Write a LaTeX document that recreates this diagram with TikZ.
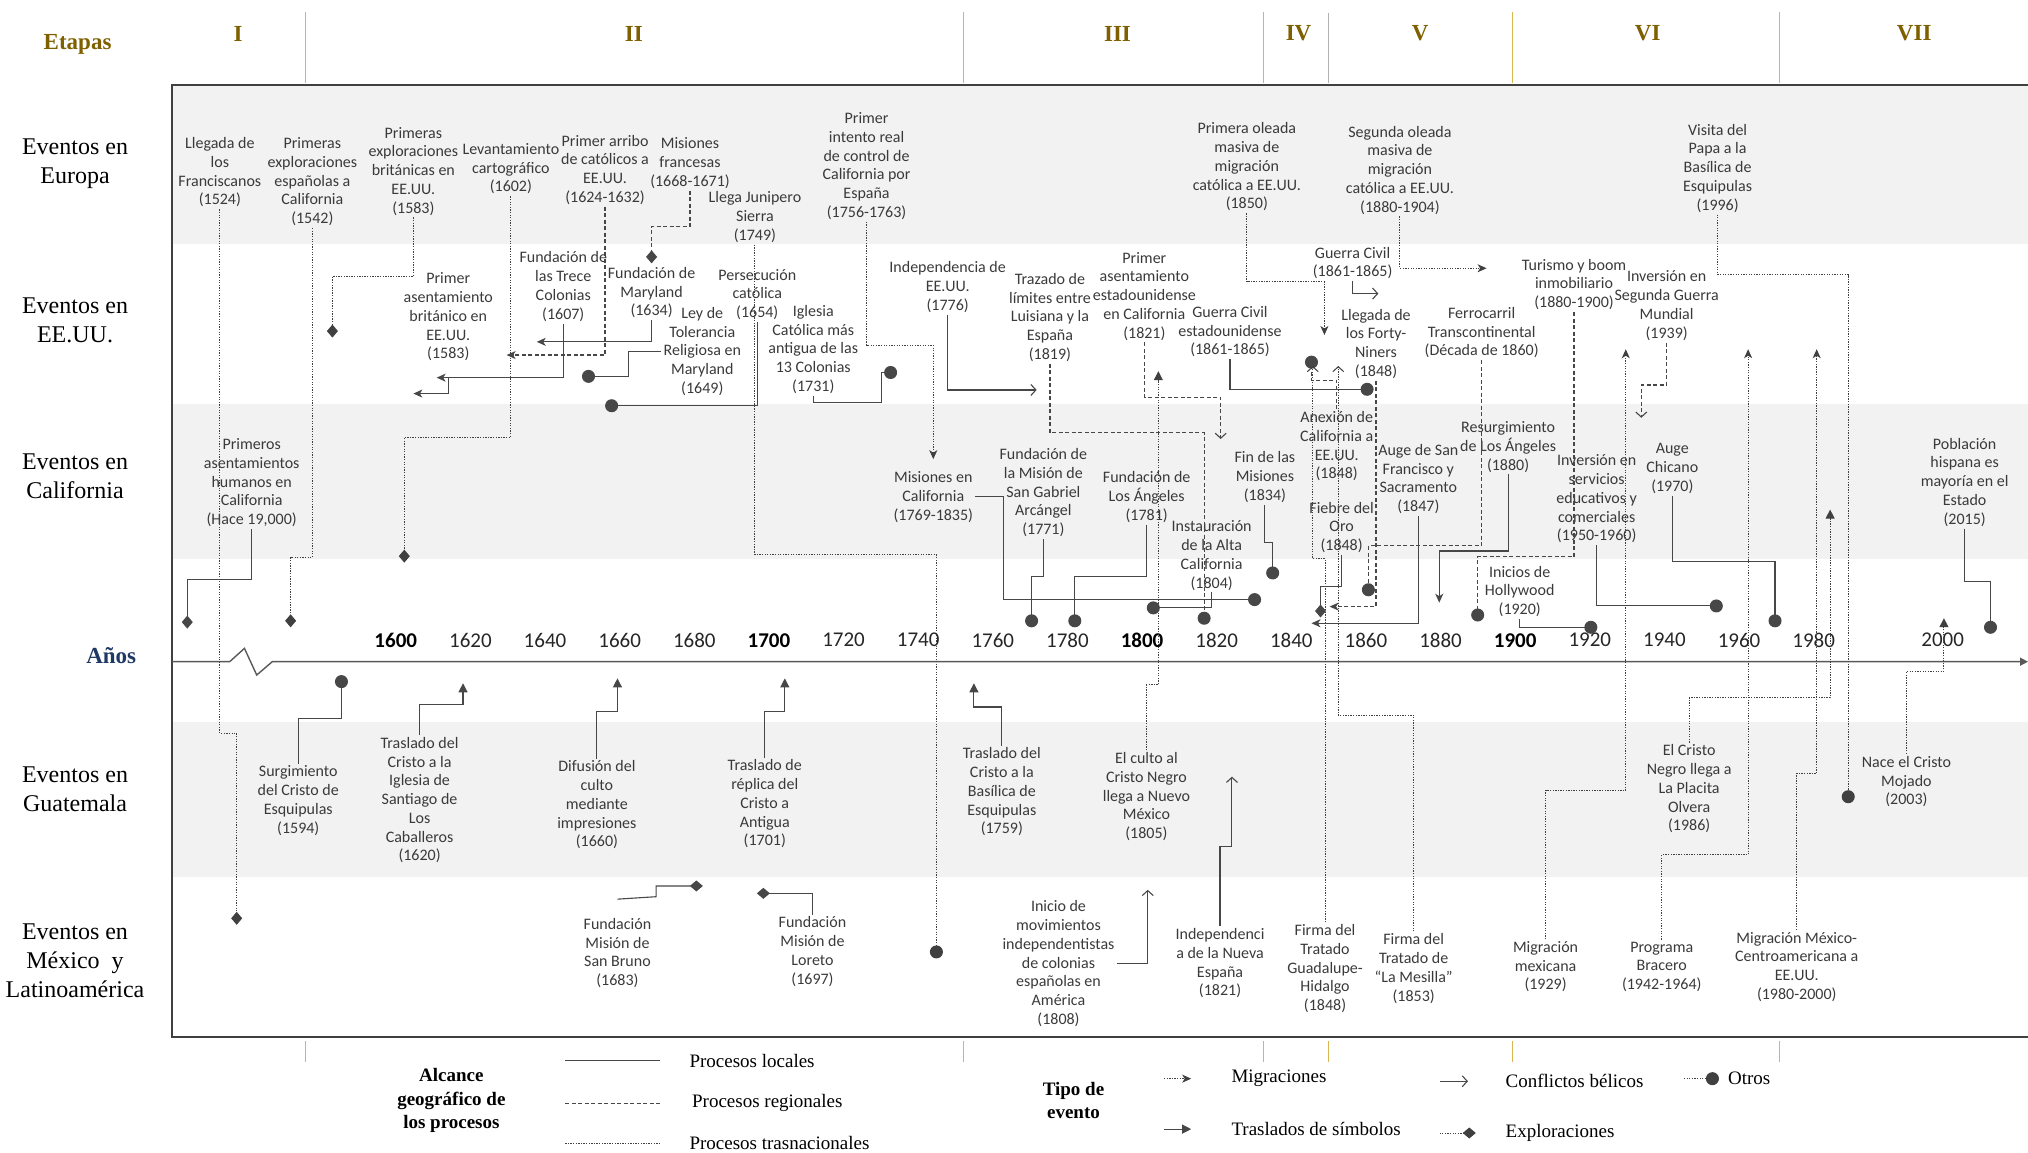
\documentclass[tikz,border=0pt]{standalone}
\usepackage{fontspec}
\setmainfont{Liberation Serif}
\newfontfamily\carl{Carlito}
\usetikzlibrary{arrows.meta}
\definecolor{bandgray}{HTML}{F2F2F2}
\definecolor{txtgray}{HTML}{3A3A3A}
\definecolor{linegray}{HTML}{474747}
\definecolor{gold}{HTML}{7F6000}
\definecolor{goldline}{HTML}{D9B650}
\definecolor{navy}{HTML}{1F3864}
\begin{document}
\begin{tikzpicture}[x=1.2934pt,y=-1.2934pt,
  ev/.style={align=center,font=\carl\fontsize{16}{18.75}\selectfont,text=txtgray,inner sep=2pt},
  rowlbl/.style={align=center,font=\fontsize{24}{29}\selectfont,text=black},
  stagelbl/.style={font=\bfseries\fontsize{23}{27}\selectfont,text=gold},
  yearlbl/.style={font=\carl\fontsize{21}{25}\selectfont,text=black!85},
  yearbold/.style={font=\carl\bfseries\fontsize{21}{25}\selectfont,text=black},
  legtxt/.style={anchor=west,font=\fontsize{19}{23}\selectfont,inner sep=0pt},
  legtitle/.style={align=center,font=\bfseries\fontsize{19}{23.3}\selectfont},
  loc/.style={draw=linegray,line width=1.1pt},
  reg/.style={draw=linegray,line width=1.1pt,dash pattern=on 4pt off 2.5pt},
  trans/.style={draw=black!75,line width=1pt,dash pattern=on 1.3pt off 1.3pt},
  migr/.style={-{Stealth[length=9pt,width=8pt,inset=2.5pt]}},
  trasl/.style={-{Triangle[length=9pt,width=9pt]}},
  confl/.style={-{Straight Barb[length=5pt,width=11pt]}},
  odot/.style={-{Circle[length=13pt]},shorten >=-6.5pt},
  expl/.style={-{Kite[length=13pt,width=11pt,inset=6.5pt]},shorten >=-6.5pt}]
\useasboundingbox (0,0) rectangle (1568,891);

% background bands of the event rows
\fill[bandgray] (133,66) rectangle (1568,189);
\fill[bandgray] (133,312) rectangle (1568,432);
\fill[bandgray] (133,558) rectangle (1568,678);

% frame
\draw[line width=2pt,draw=black!75] (1568,66) -- (133,66) -- (133,802) -- (1568,802);

% stage separators
\foreach \sx in {236,745,977,1169,1376} {
  \draw[goldline,line width=0.8pt] (\sx,9) -- (\sx,64);
  \draw[goldline,line width=0.8pt] (\sx,805) -- (\sx,821);
}
\draw[black!30,line width=0.8pt] (1027,10) -- (1027,64);
\draw[goldline,line width=0.8pt] (1027,805) -- (1027,821);

% header
\node[stagelbl] (etapas) at (60,34) {Etapas};
\node[stagelbl] (st1) at (184,26) {I};
\node[stagelbl] (st2) at (490,26) {II};
\node[stagelbl] (st3) at (864,26) {III};
\node[stagelbl] (st4) at (1004,26) {IV};
\node[stagelbl] (st5) at (1098,26) {V};
\node[stagelbl] (st6) at (1274,26) {VI};
\node[stagelbl] (st7) at (1480,26) {VII};

% row labels
\node[rowlbl] (rEur) at (58,126.5) {Eventos en\\Europa};
\node[rowlbl] (rUSA) at (58,247.5) {Eventos en\\EE.UU.};
\node[rowlbl] (rCal) at (58,368.5) {Eventos en\\California};
\node[font=\bfseries\fontsize{23}{27}\selectfont,text=navy] (rAnios) at (86,507) {Años};
\node[rowlbl] (rGua) at (58,610) {Eventos en\\Guatemala};
\node[rowlbl] (rMex) at (58,743) {Eventos en\\México~~y\\Latinoamérica};

% time axis with a break
\draw[draw=black!65,line width=1.4pt,-{Triangle[length=8pt,width=8pt]}]
  (133,511.6) -- (177.6,511.6) -- (189,501.3) -- (198.5,521.9) -- (210.5,511.6) -- (1568,511.6);
\foreach \yr/\xx in {1620/363.7,1640/421.4,1660/479.1,1680/536.8,1720/652.2,1740/709.9,1760/767.6,1780/825.3,1820/940.7,1840/998.4,1860/1056.1,1880/1113.8,1920/1229.2,1940/1286.9,1960/1344.6,1980/1402.3,2000/1502}
  \node[yearlbl] (yr\yr) at (\xx,495) {\yr};
\foreach \yr/\xx in {1600/306,1700/594.5,1800/883,1900/1171.5}
  \node[yearbold] (yr\yr) at (\xx,495) {\yr};

% ---- events in Europe
\node[ev] (e1) at (170,133.3) {Llegada de\\los\\Franciscanos\\(1524)};
\node[ev] (e2) at (241.5,140.6) {Primeras\\exploraciones\\españolas a\\California\\(1542)};
\node[ev] (e3) at (319.6,132.3) {Primeras\\exploraciones\\británicas en\\EE.UU.\\(1583)};
\node[ev] (e4) at (395,130.5) {Levantamiento\\cartográfico\\(1602)};
\node[ev] (e5) at (467.8,131.2) {Primer arribo\\de católicos a\\EE.UU.\\(1624-1632)};
\node[ev] (e6) at (533.5,126) {Misiones\\francesas\\(1668-1671)};
\node[ev] (e7) at (583.7,167.8) {Llega Junipero\\Sierra\\(1749)};
\node[ev] (e8) at (670,128.5) {Primer\\intento real\\de control de\\California por\\España\\(1756-1763)};
\node[ev] (e9) at (964,129) {Primera oleada\\masiva de\\migración\\católica a EE.UU.\\(1850)};
\node[ev] (e10) at (1082.4,131.5) {Segunda oleada\\masiva de\\migración\\católica a EE.UU.\\(1880-1904)};
\node[ev] (e11) at (1328,130) {Visita del\\Papa a la\\Basílica de\\Esquipulas\\(1996)};

% ---- events in the USA
\node[ev] (u1) at (346.6,245) {Primer\\asentamiento\\británico en\\EE.UU.\\(1583)};
\node[ev] (u2) at (435.5,221.6) {Fundación de\\las Trece\\Colonias\\(1607)};
\node[ev] (u3) at (503.8,226.3) {Fundación de\\Maryland\\(1634)};
\node[ev] (u4) at (543,271.8) {Ley de\\Tolerancia\\Religiosa en\\Maryland\\(1649)};
\node[ev] (u5) at (585.5,227.7) {Persecución\\católica\\(1654)};
\node[ev] (u6) at (628.8,270.2) {Iglesia\\Católica más\\antigua de las\\13 Colonias\\(1731)};
\node[ev] (u7) at (732.7,222) {Independencia de\\EE.UU.\\(1776)};
\node[ev] (u8) at (811.8,245.5) {Trazado de\\límites entre\\Luisiana y la\\España\\(1819)};
\node[ev] (u9) at (884.8,229) {Primer\\asentamiento\\estadounidense\\en California\\(1821)};
\node[ev] (u10) at (951,256.5) {Guerra Civil\\estadounidense\\(1861-1865)};
\node[ev] (u11) at (1045.8,203.3) {Guerra Civil\\(1861-1865)};
\node[ev] (u12) at (1063.9,265.8) {Llegada de\\los Forty-\\Niners\\(1848)};
\node[ev] (u13) at (1145.6,257.3) {Ferrocarril\\Transcontinental\\(Década de 1860)};
\node[ev] (u14) at (1217,220) {Turismo y boom\\inmobiliario\\(1880-1900)};
\node[ev] (u15) at (1288.6,236.3) {Inversión en\\Segunda Guerra\\Mundial\\(1939)};

% ---- events in California
\node[ev] (c1) at (194.6,373.2) {Primeros\\asentamientos\\humanos en\\California\\(Hace 19,000)};
\node[ev] (c2) at (721.6,384.2) {Misiones en\\California\\(1769-1835)};
\node[ev] (c3) at (806.7,381) {Fundación de\\la Misión de\\San Gabriel\\Arcángel\\(1771)};
\node[ev] (c4) at (886.6,384.2) {Fundación de\\Los Ángeles\\(1781)};
\node[ev] (c5) at (936.8,429.5) {Instauración\\de la Alta\\California\\(1804)};
\node[ev] (c6) at (978,369) {Fin de las\\Misiones\\(1834)};
\node[ev] (c7) at (1033.5,345) {Anexión de\\California a\\EE.UU.\\(1848)};
\node[ev] (c8) at (1037.3,407.8) {Fiebre del\\Oro\\(1848)};
\node[ev] (c9) at (1096.6,370.4) {Auge de San\\Francisco y\\Sacramento\\(1847)};
\node[ev] (c10) at (1166,345.5) {Resurgimiento\\de Los Ángeles\\(1880)};
\node[ev] (c11) at (1175,457.3) {Inicios de\\Hollywood\\(1920)};
\node[ev] (c12) at (1234.5,385.7) {Inversión en\\servicios\\educativos y\\comerciales\\(1950-1960)};
\node[ev] (c13) at (1293,362.3) {Auge\\Chicano\\(1970)};
\node[ev] (c14) at (1519,372.8) {Población\\hispana es\\mayoría en el\\Estado\\(2015)};

% ---- events in Guatemala
\node[ev] (g1) at (230.6,619) {Surgimiento\\del Cristo de\\Esquipulas\\(1594)};
\node[ev] (g2) at (324.4,618.7) {Traslado del\\Cristo a la\\Iglesia de\\Santiago de\\Los\\Caballeros\\(1620)};
\node[ev] (g3) at (461.5,622.4) {Difusión del\\culto\\mediante\\impresiones\\(1660)};
\node[ev] (g4) at (591.3,621.6) {Traslado de\\réplica del\\Cristo a\\Antigua\\(1701)};
\node[ev] (g5) at (774.6,612.3) {Traslado del\\Cristo a la\\Basílica de\\Esquipulas\\(1759)};
\node[ev] (g6) at (886.4,616) {El culto al\\Cristo Negro\\llega a Nuevo\\México\\(1805)};
\node[ev] (g7) at (1306,610) {El Cristo\\Negro llega a\\La Placita\\Olvera\\(1986)};
\node[ev] (g8) at (1474,604.3) {Nace el Cristo\\Mojado\\(2003)};

% ---- events in Mexico and Latin America
\node[ev] (m1) at (477.4,736.8) {Fundación\\Misión de\\San Bruno\\(1683)};
\node[ev] (m2) at (628.2,735.8) {Fundación\\Misión de\\Loreto\\(1697)};
\node[ev] (m3) at (818.4,745) {Inicio de\\movimientos\\independentistas\\de colonias\\españolas en\\América\\(1808)};
\node[ev] (m4) at (943.3,744.8) {Independenci\\a de la Nueva\\España\\(1821)};
\node[ev] (m5) at (1024.5,749) {Firma del\\Tratado\\Guadalupe-\\Hidalgo\\(1848)};
\node[ev] (m6) at (1093,748.8) {Firma del\\Tratado de\\“La Mesilla”\\(1853)};
\node[ev] (m7) at (1195,747.5) {Migración\\mexicana\\(1929)};
\node[ev] (m8) at (1284.8,747.5) {Programa\\Bracero\\(1942-1964)};
\node[ev] (m9) at (1389.2,747.6) {Migración México-\\Centroamericana a\\EE.UU.\\(1980-2000)};

% ---- connectors from Europe
\draw[trans,expl] (e1.south) |- (183,567) -- (183,710);
\draw[trans,expl] (e2.south) |- (224.7,431) -- (224.7,480);
\draw[trans,expl] (e3.south) |- (257,213.7) -- (257,256);
\draw[trans,expl] (e4.south) |- (312.6,338) -- (312.6,430);
\draw[reg,migr] (e5.south) |- (391.7,274.5);
\draw[reg,expl] (e6.south) |- (503.8,175) -- (503.8,198.6);
\draw[trans,odot] (e7.south) |- (724,429) -- (724,736);
\draw[trans,migr] (e8.south) |- (721.6,267) -- (721.6,355);
\draw[trans,migr] (e9.south) |- (1024,218) -- (1024,259);
\draw[trans,migr] (e10.south) |- (1149.4,207.4);
\draw[trans,odot] (e11.south) |- (1429,212.3) -- (1429,616);

% ---- connectors from the USA
\draw[loc,migr] (u2.south) |- (337.6,292);
\draw[loc,migr] (u2.south) |- (346.6,292) |- (319.6,304.3);
\draw[loc,migr] (u3.south) |- (415,264.3);
\draw[loc,odot] (u4.west) -| (485.8,291) -- (455,291);
\draw[loc,odot] (u5.south) |- (472.9,313.7);
\draw[loc,odot] (u6.south) |- (681.7,311) |- (688.6,288);
\draw[loc,confl] (u7.south) |- (801.5,301.5);
\draw[reg,odot] (u8.south) |- (931,334.7) -- (931,478);
\draw[reg,confl] (u9.south) |- (943.8,307) -- (943.8,339.4);
\draw[loc,odot] (u10.south) |- (1057,301);
\draw[loc,confl] (u11.south) |- (1065.7,227);
\draw[reg,migr] (u12.south) |- (1028,469);
\draw[reg,odot] (u13.south) |- (1058,422) -- (1058,456);
\draw[reg,odot] (u14.south) |- (1142.5,430.5) -- (1142.5,475.5);
\draw[reg,confl] (u15.south) |- (1269,297.7) -- (1269,323);

% ---- connectors from California
\draw[loc,expl] (c1.south) |- (144.8,448) -- (144.8,481);
\draw[loc,odot] (c2.east) -| (775.7,463.6) -- (970,463.6);
\draw[loc,odot] (c3.south) |- (797.6,445.6) -- (797.6,480);
\draw[loc,odot] (c4.south) |- (831,445.6) -- (831,480);
\draw[loc,odot] (c5.south) |- (891.7,470);
\draw[loc,odot] (c6.south) |- (984,419.5) -- (984,443);
\draw[reg,odot] (c7.north) |- (1014,294) -- (1014,280);
\draw[loc,expl] (c8.south) |- (1021,453.6) -- (1021,472.4);
\draw[loc,migr] (c9.south) |- (1014,481.9);
\draw[loc,migr] (c10.south) |- (1112.8,426) -- (1112.8,466);
\draw[loc,odot] (c11.south) |- (1230,485);
\draw[loc,odot] (c12.south) |- (1327,468.5);
\draw[loc,odot] (c13.south) |- (1372.4,434) -- (1372.4,480);
\draw[loc,odot] (c14.south) |- (1539,449.7) -- (1539,485);

% ---- connectors from Guatemala
\draw[loc,odot] (g1.north) |- (264,555.4) -- (264,527);
\draw[loc,trasl] (g2.north) |- (358,545) -- (358,528.3);
\draw[loc,trasl] (g3.north) |- (477.4,550.2) -- (477.4,524.5);
\draw[loc,trasl] (g4.north) |- (606.8,550) -- (606.8,524.5);
\draw[loc,trasl] (g5.north) |- (753,546.6) -- (753,528.3);
\draw[trans,trasl] (g6.north) |- (895.6,529.6) -- (895.6,287);
\draw[trans,trasl] (g7.north) |- (1415,539.6) -- (1415,394);
\draw[trans,trasl] (g8.north) |- (1503,519) -- (1503,478);

% ---- connectors from Mexico and Latin America
\draw[loc,expl] (m1.north) ++(0,-13) -- (507.3,693.3) -- (507.3,685) -- (538.4,685);
\draw[loc,expl] (m2.north) |- (590.2,690.7);
\draw[loc,confl] (m3.east) -| (887.4,688);
\draw[loc,confl] (m4.north) |- (952.5,654.6) -- (952.5,600.5);
\draw[trans,confl] (m5.north) |- (1015,432) -- (1015,283);
\draw[trans,confl] (m6.north) |- (1034.7,553) -- (1034.7,283);
\draw[trans,migr] (m7.north) |- (1257,611) -- (1257,270);
\draw[trans,migr] (m8.north) |- (1351.6,661) -- (1351.6,270);
\draw[trans,migr] (m9.north) |- (1404.6,598) -- (1404.6,270);

% ---- legend
\node[legtitle] (lgA) at (349,851) {Alcance\\geográfico de\\los procesos};
\draw[loc] (437,820) coordinate (lsa) -- (510,820) coordinate (lsb);
\draw[reg] (437,853) coordinate (lra) -- (510,853) coordinate (lrb);
\draw[trans] (437,884) coordinate (lta) -- (510,884) coordinate (ltb);
\node[legtxt] (lg1) at (533,820) {Procesos locales};
\node[legtxt] (lg2) at (535,853) {Procesos regionales};
\node[legtxt] (lg3) at (533,884) {Procesos trasnacionales};
\node[legtitle] (lgB) at (830,851) {Tipo de\\evento};
\draw[trans,migr] (900,834) coordinate (lma) -- (921,834) coordinate (lmb);
\node[legtxt] (lg4) at (952,834) {Migraciones};
\draw[loc,trasl] (900,873) coordinate (lna) -- (921,873) coordinate (lnb);
\node[legtxt] (lg5) at (952,873) {Traslados de símbolos};
\draw[loc,confl] (1113,836) coordinate (lca) -- (1135,836) coordinate (lcb);
\node[legtxt] (lg6) at (1164,836) {Conflictos bélicos};
\draw[trans,expl] (1113,876) coordinate (lea) -- (1136,876) coordinate (leb);
\node[legtxt] (lg7) at (1164,876) {Exploraciones};
\draw[trans,odot] (1302,834) coordinate (loa) -- (1324,834) coordinate (lob);
\node[legtxt] (lg8) at (1336,834) {Otros};
\end{tikzpicture}
\end{document}
